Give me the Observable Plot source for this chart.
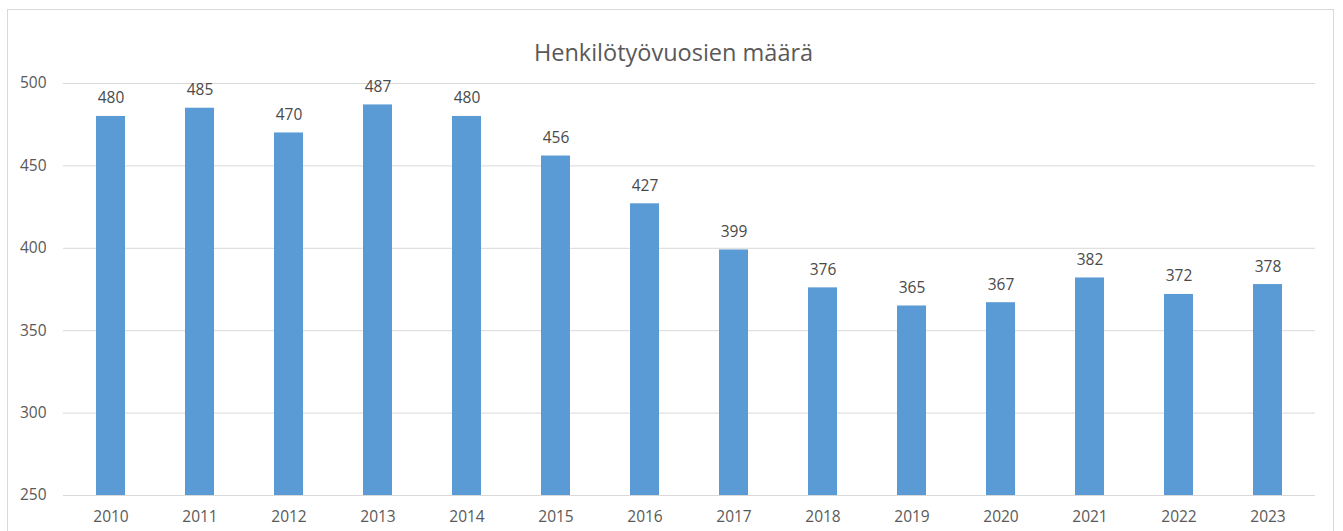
<!DOCTYPE html>
<html>
<head>
<meta charset="utf-8">
<script src="https://cdn.jsdelivr.net/npm/d3@7"></script>
<script src="https://cdn.jsdelivr.net/npm/@observablehq/plot@0.6"></script>
<style>
  html, body { margin: 0; padding: 0; background: #fff; }
  #wrap { position: relative; width: 1343px; height: 531px; overflow: hidden; }
  #frame { position: absolute; left: 7px; top: 9px; width: 1327px; height: 560px; border: 1px solid #d9d9d9; box-sizing: border-box; pointer-events: none; }
</style>
</head>
<body>
<div id="wrap"><div id="frame"></div></div>
<script>
const title = "Henkilötyövuosien määrä";
const years = ["2010","2011","2012","2013","2014","2015","2016","2017","2018","2019","2020","2021","2022","2023"];
const values = [480, 485, 470, 487, 480, 456, 427, 399, 376, 365, 367, 382, 372, 378];
const yTicks = [250, 300, 350, 400, 450, 500];

const data = years.map((y, i) => ({year: y, value: values[i]}));
const font = "'Open Sans', 'Liberation Sans', sans-serif";

const chart = Plot.plot({
  width: 1343,
  height: 531,
  marginTop: 83,
  marginBottom: 36,
  marginLeft: 63,
  marginRight: 28,
  style: {fontFamily: font, fontSize: "15.5px", color: "#595959", background: "transparent"},
  x: {domain: years, paddingInner: 0.675, paddingOuter: 0.3375, label: null, tickSize: 0, tickPadding: 15},
  y: {domain: [250, 500], ticks: yTicks, label: null, tickSize: 0, tickPadding: 17},
  marks: [
    Plot.gridY(yTicks, {stroke: "#d9d9d9", strokeOpacity: 1, strokeWidth: 1}),
    Plot.barY(data, {x: "year", y1: 250, y2: "value", fill: "#5b9bd5"}),
    Plot.ruleY([250], {stroke: "#d9d9d9", strokeWidth: 1}),
    Plot.text(data, {x: "year", y: "value", text: d => String(d.value), dy: -18, fill: "#4a4a4a", fontSize: 15.5}),
    Plot.axisX({tickSize: 0, tickPadding: 15, fill: "#595959", fontSize: 15.5}),
    Plot.axisY({ticks: yTicks, tickSize: 0, tickPadding: 17, fill: "#595959", fontSize: 15.5}),
    Plot.text([title], {frameAnchor: "top", dx: -16, dy: -39, fontSize: 23.5, fill: "#595959"})
  ]
});
document.getElementById("wrap").prepend(chart);
</script>
</body>
</html>
